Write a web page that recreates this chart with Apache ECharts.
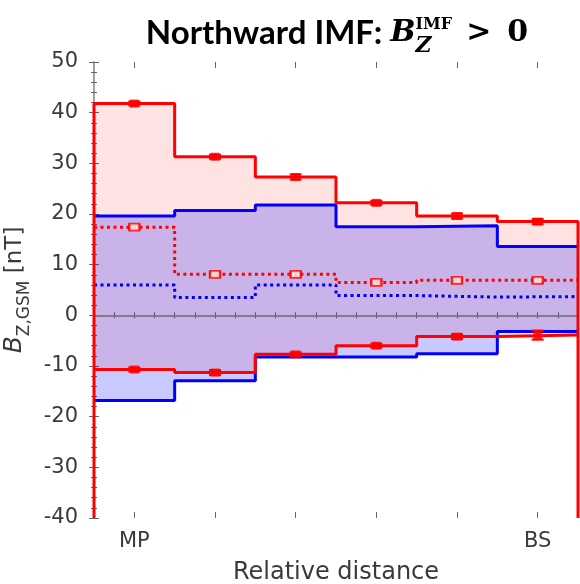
<!DOCTYPE html>
<html>
<head>
<meta charset="utf-8">
<script src="https://cdn.jsdelivr.net/npm/echarts@6/dist/echarts.min.js"></script>
<style>html,body{margin:0;padding:0;background:#fff}#c{width:580px;height:584px}</style>
</head>
<body>
<div id="c"></div>
<script>
// ---- data ----
const tickLabels = ['MP', 'BS'];
const tickBins = [0, 5];                 // bins that carry the labels
const redHigh   = [41.8, 31.3, 27.3, 22.2, 19.6, 18.5];
const redLow    = [-10.7, -11.3, -7.7, -6.0, -4.2, -3.9];
const blueHigh  = [19.6, 20.7, 21.8, 17.5, 17.7, 13.6];
const blueLow   = [-16.8, -12.9, -8.2, -8.2, -7.6, -3.2];
const redMed    = [17.4, 8.1, 8.1, 6.5, 6.9, 6.9];
const blueMed   = [6.0, 3.5, 6.0, 3.9, 3.6, 3.7];
const redHighErr = [0.4, 0.4, 0.5, 0.4, 0.5, 0.5];
const redLowErr  = [0.4, 0.5, 0.4, 0.4, 0.5, 0.9];
const redMedErr  = [0.4, 0.4, 0.4, 0.4, 0.4, 0.4];
const yMin = -40, yMax = 50;
const nBins = redHigh.length;

// ---- helpers ----
function steps(vals) {
  const pts = vals.map((v, i) => [i, v]);
  pts.push([vals.length, vals[vals.length - 1]]);
  return pts;
}
function centers(vals) { return vals.map((v, i) => [i + 0.5, v]); }
function errData(vals, errs) { return vals.map((v, i) => [i + 0.5, v, errs[i]]); }
function bandData(lo, hi) { return lo.map((v, i) => [i, i + 1, v, hi[i]]); }

const RED = '#ff0000', BLUE = '#0000ff', AX = '#9a9a9a', TXT = '#3a3a3a', FONT = 'DejaVu Sans';

function bandSeries(lo, hi, color, z) {
  return {
    type: 'custom', z: z, silent: true,
    encode: { x: [0, 1], y: [2, 3] },
    renderItem: function (params, api) {
      const a = api.coord([api.value(0), api.value(3)]);
      const b = api.coord([api.value(1), api.value(2)]);
      const x1 = Math.round(a[0]), x2 = Math.round(b[0]);
      return { type: 'rect', shape: { x: x1, y: a[1], width: x2 - x1, height: b[1] - a[1] }, style: { fill: color } };
    },
    data: bandData(lo, hi)
  };
}

function errSeries(vals, errs) {
  return {
    type: 'custom', z: 7, silent: true,
    renderItem: function (params, api) {
      const x = api.value(0), v = api.value(1), e = api.value(2);
      const t = api.coord([x, v + e]), b = api.coord([x, v - e]);
      const w = 6;
      return { type: 'group', children: [
        { type: 'line', shape: { x1: t[0], y1: t[1], x2: b[0], y2: b[1] }, style: { stroke: RED, lineWidth: 2 } },
        { type: 'line', shape: { x1: t[0] - w, y1: t[1], x2: t[0] + w, y2: t[1] }, style: { stroke: RED, lineWidth: 2 } },
        { type: 'line', shape: { x1: b[0] - w, y1: b[1], x2: b[0] + w, y2: b[1] }, style: { stroke: RED, lineWidth: 2 } }
      ]};
    },
    data: errData(vals, errs)
  };
}

function stepLine(data, color, dotted, z) {
  return {
    type: 'line', step: 'end', data: data, symbol: 'none', z: z, silent: true,
    lineStyle: { color: color, width: 3, type: dotted ? [3, 3.5] : 'solid', cap: 'butt' }
  };
}

const baseX = {
  type: 'value', min: 0, max: nBins, interval: 0.25,
  axisLine: { show: true, lineStyle: { color: AX, width: 1.5 } },
  splitLine: { show: false }
};
const baseY = {
  type: 'value', min: yMin, max: yMax, interval: 10,
  axisLine: { show: true, lineStyle: { color: AX, width: 1.5 } },
  splitLine: { show: false },
  axisTick: { inside: true, length: 5, lineStyle: { color: '#666' } },
  minorTick: { show: true, splitNumber: 5, length: 3, lineStyle: { color: '#666' } }
};
const binCenters = redHigh.map((v, i) => i + 0.5);

const option = {
  animation: false,
  backgroundColor: '#fff',
  title: {
    left: 332, top: 4, textAlign: 'center',
    text: '{a|Northward IMF: }{b|B}{sub|Z}{sup|IMF}{c|>}{d|0}',
    textStyle: {
      rich: {
        a: { fontFamily: 'Lato', fontWeight: 'bold', fontSize: 33, color: '#000', lineHeight: 48 },
        b: { fontFamily: 'DejaVu Serif', fontWeight: 'bold', fontStyle: 'italic', fontSize: 30, color: '#000', lineHeight: 48 },
        sub: { fontFamily: 'DejaVu Serif', fontWeight: 'bold', fontStyle: 'italic', fontSize: 22, color: '#000', verticalAlign: 'bottom', lineHeight: 26 },
        sup: { fontFamily: 'DejaVu Serif', fontWeight: 'bold', fontSize: 16, color: '#000', verticalAlign: 'top', lineHeight: 26, padding: [8, 0, 0, -16] },
        c: { fontFamily: 'DejaVu Serif', fontWeight: 'bold', fontSize: 30, color: '#000', lineHeight: 48, padding: [0, 16, 0, 14] },
        d: { fontFamily: 'DejaVu Serif', fontWeight: 'bold', fontSize: 30, color: '#000', lineHeight: 48 }
      }
    }
  },
  grid: { left: 94, right: 2, top: 62, bottom: 66, outerBoundsMode: 'none', containLabel: false },
  xAxis: [
    Object.assign({}, baseX, {
      position: 'bottom',
      axisTick: { inside: true, length: 3, lineStyle: { color: '#666' } },
      axisLabel: {
        customValues: tickBins.map(b => b + 0.5),
        formatter: function (v) { const k = tickBins.indexOf(Math.round(v - 0.5)); return k >= 0 ? tickLabels[k] : ''; },
        color: TXT, fontSize: 21, fontFamily: FONT, margin: 13
      },
      name: 'Relative distance', nameLocation: 'middle', nameGap: 43,
      nameTextStyle: { color: TXT, fontSize: 24, fontFamily: FONT }
    }),
    Object.assign({}, baseX, {
      position: 'top',
      axisTick: { inside: true, length: 3, lineStyle: { color: '#666' } },
      axisLabel: { show: false }
    }),
    Object.assign({}, baseX, {
      position: 'bottom', axisLine: { show: false },
      axisTick: { inside: true, length: 6, customValues: binCenters, lineStyle: { color: '#666' } },
      axisLabel: { show: false }
    }),
    Object.assign({}, baseX, {
      position: 'top', axisLine: { show: false },
      axisTick: { inside: true, length: 6, customValues: binCenters, lineStyle: { color: '#666' } },
      axisLabel: { show: false }
    })
  ],
  yAxis: [
    Object.assign({}, baseY, {
      position: 'left',
      axisLabel: { color: TXT, fontSize: 21, fontFamily: FONT, margin: 16 },
      name: '{b|B}{s|Z,GSM}{n| [nT]}', nameLocation: 'middle', nameGap: 58, nameRotate: 90,
      nameTextStyle: {
        rich: {
          b: { fontFamily: FONT, fontStyle: 'italic', fontSize: 25, color: TXT, lineHeight: 36 },
          s: { fontFamily: FONT, fontSize: 17, color: TXT, verticalAlign: 'bottom', lineHeight: 20 },
          n: { fontFamily: FONT, fontSize: 23, color: TXT, lineHeight: 36 }
        }
      }
    }),
    Object.assign({}, baseY, { position: 'right', axisLabel: { show: false } })
  ],
  series: [
    bandSeries(redLow, redHigh, 'rgba(255,0,0,0.11)', 1),
    bandSeries(blueLow, blueHigh, 'rgba(0,0,255,0.21)', 2),
    // outlines
    Object.assign(stepLine(steps(blueHigh), BLUE, false, 4), {
      markLine: { silent: true, symbol: 'none', label: { show: false }, z: 3,
        lineStyle: { color: '#808080', width: 1.5, type: 'solid' }, data: [{ yAxis: 0 }] } }),
    stepLine(steps(blueLow), BLUE, false, 4),
    stepLine(steps(blueMed), BLUE, true, 4),
    stepLine([[0, yMin]].concat(steps(redHigh), [[nBins, yMin]]), RED, false, 5),
    stepLine(steps(redLow), RED, false, 5),
    stepLine(steps(redMed), RED, true, 5),
    // error bars
    errSeries(redHigh, redHighErr),
    errSeries(redLow, redLowErr),
    errSeries(redMed, redMedErr),
    // markers
    { type: 'scatter', data: centers(redHigh), symbol: 'rect', symbolSize: [9, 8], itemStyle: { color: RED }, z: 8, silent: true },
    { type: 'scatter', data: centers(redLow), symbol: 'rect', symbolSize: [9, 8], itemStyle: { color: RED }, z: 8, silent: true },
    { type: 'scatter', data: centers(redMed), symbol: 'emptyRect', symbolSize: [10, 7], itemStyle: { color: RED, borderColor: RED, borderWidth: 1.5 }, z: 8, silent: true }
  ]
};
const chart = echarts.init(document.getElementById('c'), null, { renderer: 'canvas' });
chart.setOption(option);
</script>
</body>
</html>
